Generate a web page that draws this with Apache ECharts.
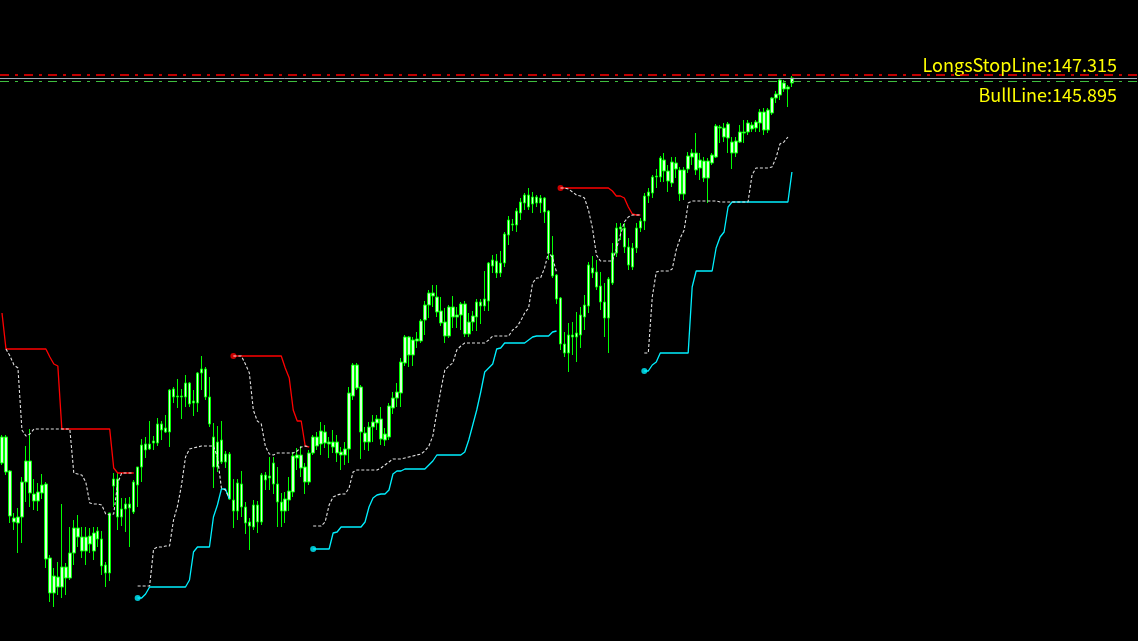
<!DOCTYPE html>
<html>
<head>
<meta charset="utf-8">
<title>LongsStopLine</title>
<script src="https://cdn.jsdelivr.net/npm/echarts@6/dist/echarts.min.js"></script>
<style>
  html, body { margin: 0; padding: 0; background: #000; }
  #chart { width: 1138px; height: 641px; }
</style>
</head>
<body>
<div id="chart"></div>
<script>
// candles, oldest first (one per bar, 199 bars)
const opens = [
  143.69, 143.69, 143.35, 142.84, 142.83, 142.89, 143.24, 143.45, 143.12, 143.05,
  143.13, 143.22, 142.48, 142.13, 142.29, 142.19, 142.39, 142.28, 142.53, 142.78,
  142.69, 142.55, 142.70, 142.55, 142.75, 142.67, 142.41, 142.33, 143.20, 143.27,
  142.89, 142.97, 143.02, 142.94, 143.21, 143.39, 143.62, 143.57, 143.63, 143.63,
  143.82, 143.74, 143.74, 144.17, 144.09, 144.10, 144.09, 144.23, 144.03, 144.03,
  144.33, 144.37, 144.09, 143.69, 143.39, 143.66, 143.44, 143.52, 143.06, 142.95,
  143.22, 142.99, 142.84, 142.79, 143.01, 142.84, 143.31, 143.28, 143.43, 143.22,
  143.04, 142.95, 143.06, 143.14, 143.48, 143.51, 143.39, 143.24, 143.53, 143.69,
  143.62, 143.74, 143.64, 143.59, 143.64, 143.54, 143.51, 143.57, 144.10, 144.41,
  144.19, 143.73, 143.64, 143.79, 143.83, 143.87, 143.66, 143.69, 143.98, 144.08,
  144.13, 144.43, 144.69, 144.51, 144.65, 144.65, 144.86, 145.01, 145.13, 145.09,
  144.95, 144.84, 144.70, 144.99, 144.89, 144.91, 145.02, 144.72, 144.84, 144.89,
  145.04, 145.00, 145.05, 145.46, 145.45, 145.33, 145.43, 145.71, 145.82, 145.81,
  145.93, 146.03, 146.11, 146.02, 146.09, 146.03, 146.08, 145.95, 145.51, 145.31,
  145.08, 144.62, 144.53, 144.71, 144.69, 144.71, 144.89, 145.00, 145.38, 145.34,
  145.20, 145.04, 144.88, 145.23, 145.53, 145.77, 145.78, 145.59, 145.39, 145.58,
  145.78, 145.85, 146.10, 146.13, 146.29, 146.29, 146.46, 146.35, 146.23, 146.43,
  146.36, 146.12, 146.37, 146.49, 146.53, 146.38, 146.45, 146.28, 146.43, 146.49,
  146.79, 146.78, 146.82, 146.64, 146.53, 146.64, 146.74, 146.74, 146.81, 146.78,
  146.83, 146.94, 146.76, 146.93, 147.08, 147.11, 147.23, 147.17, 147.23
];
const closes = [
  143.43, 143.34, 142.90, 142.88, 142.89, 143.24, 143.45, 143.13, 143.05, 143.14,
  143.21, 142.47, 142.13, 142.30, 142.19, 142.39, 142.28, 142.53, 142.78, 142.69,
  142.55, 142.69, 142.62, 142.73, 142.67, 142.40, 142.33, 142.93, 143.27, 142.89,
  142.97, 143.02, 142.98, 143.24, 143.39, 143.61, 143.56, 143.62, 143.65, 143.82,
  143.76, 143.78, 144.16, 144.09, 144.10, 144.09, 144.23, 144.02, 144.05, 144.33,
  144.37, 144.09, 143.82, 143.39, 143.64, 143.44, 143.52, 143.07, 142.95, 143.23,
  142.99, 142.83, 142.80, 143.01, 142.84, 143.31, 143.26, 143.30, 143.22, 143.04,
  142.95, 143.07, 143.15, 143.50, 143.51, 143.38, 143.24, 143.53, 143.69, 143.60,
  143.75, 143.63, 143.62, 143.64, 143.53, 143.51, 143.57, 144.13, 144.41, 144.18,
  143.74, 143.64, 143.79, 143.84, 143.87, 143.67, 143.72, 144.00, 144.08, 144.14,
  144.44, 144.69, 144.51, 144.66, 144.67, 144.85, 145.01, 145.13, 145.10, 144.94,
  144.83, 144.70, 144.99, 144.89, 144.91, 145.02, 144.72, 144.84, 144.90, 145.04,
  145.00, 145.07, 145.43, 145.40, 145.33, 145.43, 145.72, 145.86, 145.81, 145.95,
  146.04, 146.11, 145.99, 146.09, 146.03, 146.08, 145.94, 145.53, 145.30, 145.07,
  144.62, 144.53, 144.71, 144.69, 144.73, 144.91, 145.01, 145.41, 145.33, 145.19,
  145.04, 144.88, 145.27, 145.53, 145.78, 145.79, 145.59, 145.41, 145.58, 145.78,
  145.85, 146.10, 146.14, 146.29, 146.30, 146.48, 146.35, 146.25, 146.44, 146.37,
  146.12, 146.36, 146.50, 146.53, 146.36, 146.46, 146.28, 146.45, 146.51, 146.80,
  146.78, 146.69, 146.68, 146.53, 146.65, 146.74, 146.73, 146.83, 146.77, 146.84,
  146.94, 146.76, 146.96, 147.08, 147.12, 147.26, 147.17, 147.19, 147.28
];
const lows = [
  143.41, 143.31, 142.83, 142.76, 142.53, 142.63, 143.04, 142.99, 142.96, 142.95,
  143.07, 142.38, 142.04, 141.99, 142.11, 142.08, 142.11, 142.26, 142.41, 142.59,
  142.48, 142.41, 142.53, 142.46, 142.59, 142.31, 142.19, 142.25, 142.99, 142.76,
  142.80, 142.74, 142.59, 142.92, 142.99, 143.24, 143.48, 143.56, 143.56, 143.60,
  143.66, 143.73, 143.59, 144.03, 143.98, 143.87, 143.99, 143.99, 143.90, 143.94,
  144.16, 144.06, 143.79, 143.18, 143.34, 143.42, 143.38, 143.06, 142.78, 142.86,
  142.89, 142.72, 142.56, 142.76, 142.73, 142.81, 143.16, 143.16, 143.12, 142.79,
  142.79, 142.83, 142.95, 143.09, 143.36, 143.29, 143.12, 143.21, 143.51, 143.56,
  143.51, 143.58, 143.48, 143.53, 143.44, 143.36, 143.41, 143.43, 144.06, 144.16,
  143.47, 143.56, 143.55, 143.64, 143.76, 143.61, 143.60, 143.66, 143.92, 143.99,
  143.99, 144.40, 144.39, 144.40, 144.58, 144.63, 144.71, 144.88, 144.99, 144.89,
  144.80, 144.63, 144.68, 144.78, 144.78, 144.76, 144.69, 144.69, 144.75, 144.75,
  144.82, 144.95, 144.95, 145.33, 145.28, 145.29, 145.39, 145.61, 145.75, 145.74,
  145.86, 145.96, 145.96, 145.93, 145.99, 145.93, 145.83, 145.46, 145.28, 145.02,
  144.56, 144.49, 144.34, 144.51, 144.44, 144.58, 144.76, 144.93, 145.28, 145.16,
  144.96, 144.69, 144.53, 145.21, 145.49, 145.66, 145.53, 145.36, 145.36, 145.53,
  145.74, 145.76, 146.03, 146.08, 146.18, 146.24, 146.24, 146.14, 146.19, 146.28,
  146.05, 146.06, 146.33, 146.41, 146.31, 146.26, 146.24, 146.03, 146.41, 146.48,
  146.63, 146.64, 146.53, 146.37, 146.49, 146.63, 146.63, 146.71, 146.74, 146.74,
  146.74, 146.71, 146.73, 146.91, 147.03, 147.06, 147.14, 146.99, 147.19
];
const highs = [
  143.71, 143.71, 143.36, 142.93, 142.98, 143.29, 143.60, 143.77, 143.27, 143.23,
  143.32, 143.24, 142.51, 142.38, 142.44, 143.02, 142.43, 142.79, 142.86, 142.91,
  142.79, 142.79, 142.78, 142.79, 142.79, 142.75, 142.44, 142.93, 143.33, 143.33,
  143.08, 143.08, 143.09, 143.26, 143.39, 143.67, 143.69, 143.85, 143.70, 143.88,
  143.85, 143.91, 144.17, 144.19, 144.27, 144.17, 144.31, 144.24, 144.16, 144.34,
  144.50, 144.39, 144.29, 143.83, 143.80, 143.85, 143.55, 143.54, 143.27, 143.27,
  143.35, 143.04, 142.88, 143.06, 143.05, 143.33, 143.34, 143.49, 143.49, 143.39,
  143.13, 143.14, 143.29, 143.54, 143.58, 143.60, 143.43, 143.56, 143.71, 143.74,
  143.84, 143.81, 143.69, 143.76, 143.71, 143.59, 143.64, 144.19, 144.43, 144.43,
  144.21, 143.79, 143.84, 143.91, 143.91, 143.99, 143.78, 144.03, 144.14, 144.23,
  144.48, 144.71, 144.70, 144.69, 144.74, 144.87, 145.05, 145.16, 145.21, 145.21,
  145.09, 144.98, 145.01, 145.10, 144.99, 145.04, 145.05, 144.93, 144.95, 145.07,
  145.07, 145.35, 145.44, 145.51, 145.52, 145.55, 145.74, 145.90, 145.87, 145.98,
  146.08, 146.13, 146.18, 146.14, 146.11, 146.11, 146.09, 145.96, 145.70, 145.32,
  145.09, 144.74, 144.83, 144.84, 144.94, 144.99, 145.11, 145.44, 145.50, 145.46,
  145.34, 145.23, 145.29, 145.63, 145.83, 145.83, 145.83, 145.68, 145.63, 145.83,
  145.88, 146.13, 146.18, 146.31, 146.37, 146.50, 146.53, 146.41, 146.49, 146.49,
  146.39, 146.39, 146.54, 146.57, 146.73, 146.53, 146.49, 146.48, 146.53, 146.82,
  146.81, 146.83, 146.84, 146.69, 146.69, 146.81, 146.86, 146.86, 146.84, 146.86,
  146.97, 146.98, 146.98, 147.09, 147.15, 147.27, 147.26, 147.21, 147.30
];

// stop lines: [first bar index, values from that bar on]
const redSegments = [
  [0, [144.93, 144.57, 144.57, 144.57, 144.57, 144.57, 144.57, 144.57, 144.57, 144.57, 144.57, 144.57,
       144.49, 144.42, 144.40, 143.77, 143.77, 143.77, 143.77, 143.77, 143.77, 143.77, 143.77, 143.77,
       143.77, 143.77, 143.77, 143.77, 143.38, 143.33, 143.33, 143.33, 143.33, 143.33]],
  [58, [144.50, 144.50, 144.50, 144.50, 144.50, 144.50, 144.50, 144.50, 144.50, 144.50, 144.50, 144.50,
        144.50, 144.38, 144.28, 143.96, 143.85, 143.85, 143.60, 143.59]],
  [140, [146.18, 146.18, 146.18, 146.18, 146.18, 146.18, 146.18, 146.18, 146.18, 146.18, 146.18, 146.18,
         146.18, 146.15, 146.10, 146.10, 146.08, 145.99, 145.92, 145.91, 145.91]]
];
const cyanSegments = [
  [34, [142.08, 142.08, 142.12, 142.19, 142.19, 142.19, 142.19, 142.19, 142.19, 142.19, 142.19, 142.19,
        142.19, 142.26, 142.54, 142.59, 142.59, 142.59, 142.59, 142.89, 143.01, 143.17, 143.17, 143.07]],
  [78, [142.57, 142.57, 142.57, 142.57, 142.57, 142.73, 142.74, 142.79, 142.79, 142.79, 142.79, 142.79,
        142.79, 142.84, 142.99, 143.08, 143.11, 143.12, 143.12, 143.16, 143.32, 143.35, 143.35, 143.37,
        143.37, 143.37, 143.37, 143.37, 143.37, 143.41, 143.45, 143.51, 143.51, 143.51, 143.51, 143.51,
        143.51, 143.51, 143.54, 143.66, 143.81, 143.96, 144.14, 144.34, 144.38, 144.42, 144.57, 144.58,
        144.63, 144.63, 144.63, 144.63, 144.63, 144.63, 144.66, 144.69, 144.70, 144.70, 144.70, 144.70,
        144.74, 144.75]],
  [161, [144.35, 144.35, 144.41, 144.44, 144.53, 144.53, 144.53, 144.53, 144.53, 144.53, 144.53, 144.53,
         145.19, 145.35, 145.35, 145.35, 145.35, 145.35, 145.58, 145.69, 145.74, 145.99, 146.04, 146.04,
         146.04, 146.04, 146.04, 146.04, 146.04, 146.04, 146.04, 146.04, 146.04, 146.04, 146.04, 146.04,
         146.04, 146.34]]
];
const whiteSegments = [
  [1, [144.57, 144.50, 144.41, 144.38, 143.76, 143.70, 143.72, 143.77, 143.77, 143.77, 143.77, 143.77,
       143.77, 143.77, 143.77, 143.77, 143.77, 143.33, 143.32, 143.31, 143.24, 143.03, 143.02, 143.02,
       143.01, 142.92, 142.91, 142.92, 143.23, 143.33, 143.33, 143.33, 143.33]],
  [34, [142.20, 142.20, 142.20, 142.20, 142.57, 142.59, 142.59, 142.60, 142.60, 142.86, 143.00, 143.21,
        143.49, 143.57, 143.58, 143.59, 143.60, 143.60, 143.60, 143.60, 143.49, 143.18, 143.16, 143.08]],
  [58, [144.50, 144.50, 144.50, 144.42, 144.33, 143.96, 143.85, 143.82, 143.60, 143.52, 143.51, 143.53,
        143.53, 143.53, 143.53, 143.53, 143.55, 143.59, 143.60, 143.59]],
  [78, [142.80, 142.80, 142.80, 142.84, 143.01, 143.09, 143.11, 143.12, 143.12, 143.18, 143.34, 143.36,
        143.36, 143.36, 143.36, 143.36, 143.36, 143.38, 143.41, 143.44, 143.47, 143.47, 143.47, 143.48,
        143.49, 143.50, 143.51, 143.52, 143.55, 143.60, 143.70, 143.94, 144.16, 144.36, 144.40, 144.43,
        144.56, 144.60, 144.63, 144.63, 144.63, 144.63, 144.63, 144.63, 144.66, 144.70, 144.70, 144.70,
        144.70, 144.70, 144.76, 144.79, 144.85, 144.93, 144.98, 145.23, 145.28, 145.28, 145.38, 145.54,
        145.48, 145.34]],
  [140, [146.18, 146.18, 146.17, 146.14, 146.11, 146.10, 146.08, 145.96, 145.78, 145.51, 145.45, 145.45,
         145.45, 145.45, 145.57, 145.71, 145.84, 145.89, 145.91, 145.91, 145.91]],
  [161, [144.53, 144.53, 145.09, 145.34, 145.35, 145.35, 145.35, 145.37, 145.56, 145.68, 145.76, 146.03,
         146.05, 146.05, 146.05, 146.05, 146.05, 146.05, 146.05, 146.04, 146.04, 146.04, 146.04, 146.04,
         146.04, 146.04, 146.04, 146.31, 146.38, 146.38, 146.38, 146.38, 146.39, 146.48, 146.62, 146.64,
         146.69]]
];

// horizontal levels and their captions
const longsStopLevel = 147.315;
const bidLevel = 147.275;
const askLevel = 147.25;
const captions = ['LongsStopLine:147.315', 'BullLine:145.895'];

const slots = 285;   // bar slots across the window, 4px each
const yMin = 141.65;
const yMax = 148.06;

const padded = (segs) => {
  const arr = new Array(slots).fill(null);
  segs.forEach(([start, vals]) => vals.forEach((v, j) => { arr[start + j] = v; }));
  return arr;
};
// first point of a segment gets a dot (except the one that starts off screen)
const dots = (segs) => segs.filter(s => s[0] > 0).map(([start, vals]) => [start, vals[0]]);

const candles = opens.map((o, i) => [o, closes[i], lows[i], highs[i]]);

const myChart = echarts.init(document.getElementById('chart'));

const option = {
  backgroundColor: '#000000',
  animation: false,
  grid: { left: -3, right: 1, top: 0, bottom: 0 },
  xAxis: {
    type: 'category',
    data: Array.from({ length: slots }, (_, i) => i),
    show: false,
    boundaryGap: true
  },
  yAxis: {
    type: 'value',
    min: yMin,
    max: yMax,
    show: false
  },
  series: [
    {
      type: 'candlestick',
      data: candles,
      barWidth: 3,
      itemStyle: {
        color: '#d8ffd8',
        color0: '#d8ffd8',
        borderColor: '#00ff00',
        borderColor0: '#00ff00',
        borderWidth: 1
      },
      markLine: {
        silent: true,
        symbol: ['none', 'none'],
        label: { show: false },
        data: [
          { yAxis: longsStopLevel, lineStyle: { color: '#ff0000', type: [9, 6, 3, 6], width: 1.5 } },
          { yAxis: bidLevel, lineStyle: { color: '#a3acb6', type: 'solid', width: 1 } },
          { yAxis: askLevel, lineStyle: { color: '#3fbf3f', type: [9, 6, 3, 6], width: 1 } }
        ]
      }
    },
    {
      type: 'line',
      data: padded(redSegments),
      symbol: 'none',
      lineStyle: { color: '#ff0000', width: 1.3 }
    },
    {
      type: 'line',
      data: padded(cyanSegments),
      symbol: 'none',
      lineStyle: { color: '#00f0ff', width: 1.3 }
    },
    {
      type: 'line',
      data: padded(whiteSegments.filter((s, i) => i % 2 === 0)),
      symbol: 'none',
      lineStyle: { color: '#e0e0e0', width: 1.1, type: [3, 2] }
    },
    {
      type: 'line',
      data: padded(whiteSegments.filter((s, i) => i % 2 === 1)),
      symbol: 'none',
      lineStyle: { color: '#e0e0e0', width: 1.1, type: [3, 2] }
    },
    {
      type: 'scatter',
      data: dots(redSegments),
      symbolSize: 6,
      itemStyle: { color: '#ff0000' }
    },
    {
      type: 'scatter',
      data: dots(cyanSegments),
      symbolSize: 6,
      itemStyle: { color: '#00f0ff' }
    }
  ],
  graphic: [
    {
      type: 'text',
      right: 21,
      top: 56,
      style: {
        text: captions[0],
        fill: '#ffff00',
        font: '18px "Noto Sans CJK JP"'
      }
    },
    {
      type: 'text',
      right: 21,
      top: 86,
      style: {
        text: captions[1],
        fill: '#ffff00',
        font: '18px "Noto Sans CJK JP"'
      }
    }
  ]
};

myChart.setOption(option);
</script>
</body>
</html>
